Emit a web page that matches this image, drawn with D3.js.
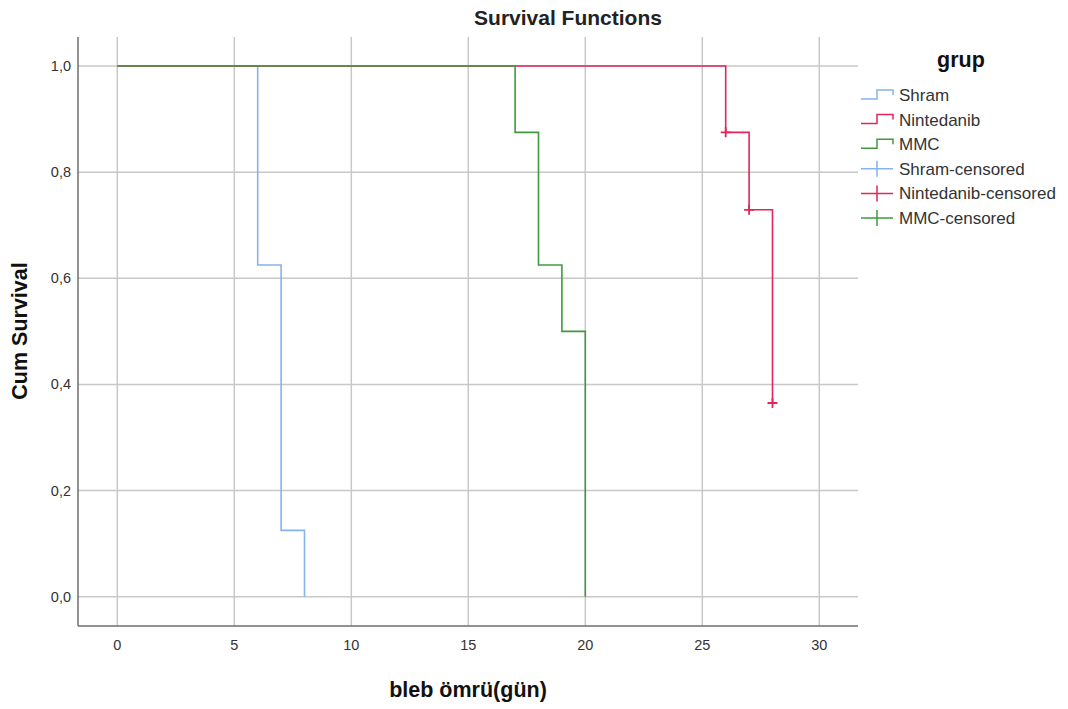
<!DOCTYPE html>
<html>
<head>
<meta charset="utf-8">
<script src="https://d3js.org/d3.v7.min.js"></script>
<style>
  body { margin: 0; background: #fff; }
  text { font-family: Arial, "Liberation Sans", sans-serif; }
</style>
</head>
<body>
<svg id="frame" width="1068" height="709"></svg>
<script>
// data
var groups = ["Shram", "Nintedanib", "MMC"];
var colors = ["#86b3ee", "#e0265a", "#3f9a3f"];
// step points [time, survival]
var shramSteps = [[0, 1], [6, 0.625], [7, 0.125], [8, 0]];
var nintSteps = [[0, 1], [26, 0.875], [27, 0.729], [28, 0.365]];
var mmcSteps = [[0, 1], [17, 0.875], [18, 0.625], [19, 0.5], [20, 0]];
var shramCens = [];
var nintCens = [[26, 0.875], [27, 0.729], [28, 0.365]];
var mmcCens = [];
var xTicks = [0, 5, 10, 15, 20, 25, 30];
var yTicks = [0, 0.2, 0.4, 0.6, 0.8, 1.0];
var legendLabels = ["Shram", "Nintedanib", "MMC", "Shram-censored", "Nintedanib-censored", "MMC-censored"];

var svg = d3.select('#frame');
var pLeft = 78, pRight = 858, pTop = 37, pBottom = 626;

var x = d3.scaleLinear().domain([0, 30]).range([117.3, 819.3]);
var y = d3.scaleLinear().domain([0, 1]).range([596.7, 66]);

// grid
svg.append('g').selectAll('line')
  .data(xTicks).enter().append('line')
  .attr('x1', d => x(d)).attr('x2', d => x(d))
  .attr('y1', pTop).attr('y2', pBottom)
  .attr('stroke', '#c8c8c8').attr('stroke-width', 1.5);
svg.append('g').selectAll('line')
  .data(yTicks).enter().append('line')
  .attr('x1', pLeft).attr('x2', pRight)
  .attr('y1', d => y(d)).attr('y2', d => y(d))
  .attr('stroke', '#c8c8c8').attr('stroke-width', 1.5);

// axes lines
svg.append('line').attr('x1', pLeft).attr('x2', pLeft).attr('y1', pTop).attr('y2', pBottom)
  .attr('stroke', '#6e6e6e').attr('stroke-width', 1.5);
svg.append('line').attr('x1', pLeft).attr('x2', pRight).attr('y1', pBottom).attr('y2', pBottom)
  .attr('stroke', '#6e6e6e').attr('stroke-width', 1.5);

// tick labels
svg.append('g').selectAll('text')
  .data(xTicks).enter().append('text')
  .attr('x', d => x(d)).attr('y', 650)
  .attr('text-anchor', 'middle')
  .attr('font-size', 14.5).attr('fill', '#333')
  .text(d => d);
svg.append('g').selectAll('text')
  .data(yTicks).enter().append('text')
  .attr('x', 71).attr('y', d => y(d) + 5)
  .attr('text-anchor', 'end')
  .attr('font-size', 14.5).attr('fill', '#333')
  .text(d => d.toFixed(1).replace('.', ','));

// titles
svg.append('text').attr('x', 568).attr('y', 25).attr('text-anchor', 'middle')
  .attr('font-size', 21).attr('font-weight', 'bold').attr('fill', '#222')
  .text('Survival Functions');
svg.append('text').attr('x', 468).attr('y', 697).attr('text-anchor', 'middle')
  .attr('font-size', 21.5).attr('font-weight', 'bold').attr('fill', '#111')
  .text('bleb ömrü(gün)');
svg.append('text').attr('transform', 'translate(27,331) rotate(-90)')
  .attr('text-anchor', 'middle')
  .attr('font-size', 21.5).attr('font-weight', 'bold').attr('fill', '#111')
  .text('Cum Survival');

// step lines
var line = d3.line().x(d => x(d[0])).y(d => y(d[1])).curve(d3.curveStepAfter);
var stepsAll = [shramSteps, nintSteps, mmcSteps];
var censAll = [shramCens, nintCens, mmcCens];
stepsAll.forEach(function(s, i) {
  svg.append('path').attr('d', line(s))
    .attr('fill', 'none').attr('stroke', colors[i]).attr('stroke-width', 1.6);
});
censAll.forEach(function(c, i) {
  svg.append('g').selectAll('path')
    .data(c).enter().append('path')
    .attr('d', d => 'M' + (x(d[0]) - 5) + ',' + y(d[1]) + 'h10M' + x(d[0]) + ',' + (y(d[1]) - 5) + 'v10')
    .attr('stroke', colors[i]).attr('stroke-width', 1.8).attr('fill', 'none');
});

// legend
svg.append('text').attr('x', 961).attr('y', 67).attr('text-anchor', 'middle')
  .attr('font-size', 21.5).attr('font-weight', 'bold').attr('fill', '#111')
  .text('grup');
var leg = svg.append('g').selectAll('g')
  .data(legendLabels).enter().append('g')
  .attr('transform', (d, i) => 'translate(0,' + (95 + i * 24.6) + ')');
leg.append('path')
  .attr('d', (d, i) => i < 3 ? 'M861,4H877V-5H893V0' : 'M861,0H893M877,-8V8')
  .attr('fill', 'none').attr('stroke-width', 1.5)
  .attr('stroke', (d, i) => colors[i % 3]);
leg.append('text').attr('x', 899).attr('y', 6)
  .attr('font-size', 17).attr('fill', '#333')
  .text(d => d);
</script>
</body>
</html>
